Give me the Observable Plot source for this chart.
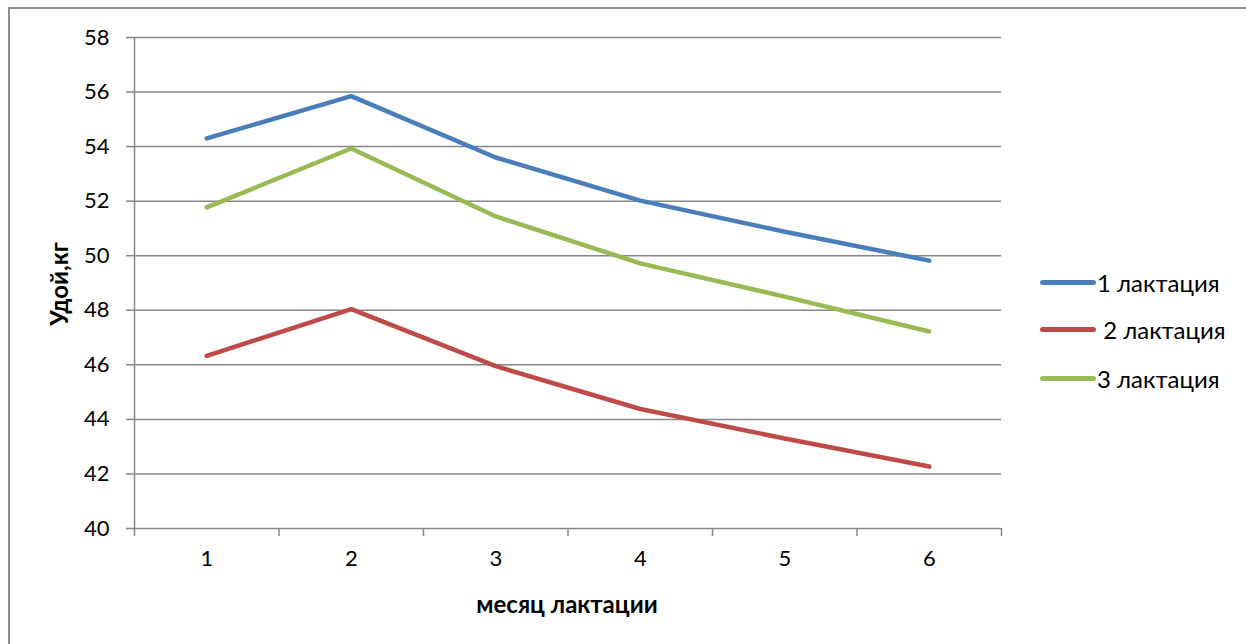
<!DOCTYPE html>
<html>
<head>
<meta charset="utf-8">
<script src="https://cdn.jsdelivr.net/npm/d3@7"></script>
<script src="https://cdn.jsdelivr.net/npm/@observablehq/plot@0.6"></script>
<style>
  html, body { margin: 0; padding: 0; background: #fff; }
  #wrap { position: relative; width: 1246px; height: 644px; overflow: hidden; font-family: Lato, "Open Sans", sans-serif; }
  #frame { position: absolute; left: 8px; top: 7px; width: 1400px; height: 800px; border-left: 2px solid #8c8c8c; border-top: 2px solid #8c8c8c; }
  #chart { position: absolute; left: 0; top: 0; }
  #legend { position: absolute; left: 1040px; top: 0; }
  .item { position: absolute; display: flex; align-items: center; white-space: nowrap; font-size: 24px; color: #000; }
  .swatch { width: 56px; height: 5px; border-radius: 3px; }
  .title { position: absolute; font-weight: bold; font-size: 24px; color: #000; white-space: nowrap; line-height: 1; }
</style>
</head>
<body>
<div id="wrap"><div id="frame"></div><div id="chart"></div><div id="legend"></div></div>
<script>
const months = [1, 2, 3, 4, 5, 6];
const seriesNames = ["1 лактация", " 2 лактация", "3 лактация"];
const lact1 = [54.30, 55.85, 53.60, 52.02, 50.88, 49.82];
const lact2 = [46.33, 48.04, 45.95, 44.38, 43.30, 42.27];
const lact3 = [51.77, 53.93, 51.44, 49.72, 48.50, 47.22];
const colors = ["#4a7ebb", "#be4b48", "#98b954"];
const yTicks = [40, 42, 44, 46, 48, 50, 52, 54, 56, 58];
const xTitle = "месяц лактации";
const yTitle = "Удой,кг";

const seriesValues = [lact1, lact2, lact3];
const data = seriesValues.flatMap((vals, s) => vals.map((v, i) => ({month: months[i], value: v, series: seriesNames[s]})));
const bounds = [months[0] - 0.5, ...months.map(m => m + 0.5)];

const gridColor = "#878787";
const font = 'Lato, "Open Sans", sans-serif';

const chart = Plot.plot({
  width: 1246,
  height: 644,
  marginLeft: 134,
  marginRight: 245,
  marginTop: 37,
  marginBottom: 116,
  style: {fontFamily: font, background: "transparent", overflow: "visible"},
  x: {domain: [bounds[0], bounds[bounds.length - 1]]},
  y: {domain: [40, 58]},
  color: {domain: seriesNames, range: colors},
  marks: [
    Plot.gridY(yTicks, {stroke: gridColor, strokeOpacity: 1, strokeWidth: 1.5}),
    Plot.ruleX([bounds[0]], {stroke: gridColor, strokeWidth: 1.5}),
    Plot.axisY({ticks: yTicks, tickSize: 8, tickPadding: 17, stroke: gridColor, strokeWidth: 1.5, fontSize: 22, fill: "#000", label: null}),
    Plot.axisX({ticks: bounds, tickSize: 8, tickFormat: () => "", stroke: gridColor, strokeWidth: 1.5, label: null}),
    Plot.axisX({ticks: months, tickSize: 0, tickPadding: 22, fontSize: 22, fill: "#000", label: null, tickFormat: d => String(d)}),
    Plot.line(data, {x: "month", y: "value", z: "series", stroke: "series", strokeWidth: 4.5, strokeLinecap: "round", strokeLinejoin: "miter"})
  ]
});
document.getElementById("chart").appendChild(chart);

const wrap = document.getElementById("wrap");
const yt = document.createElement("div");
yt.className = "title";
yt.textContent = yTitle;
yt.style.left = "59px";
yt.style.top = "284px";
yt.style.transform = "translate(-50%, -50%) rotate(-90deg)";
wrap.appendChild(yt);
const xt = document.createElement("div");
xt.className = "title";
xt.textContent = xTitle;
xt.style.left = "567px";
xt.style.top = "604px";
xt.style.transform = "translate(-50%, -50%)";
wrap.appendChild(xt);

const legend = document.getElementById("legend");
const legendY = [282, 329, 378];
seriesNames.forEach((name, i) => {
  const item = document.createElement("div");
  item.className = "item";
  item.style.top = (legendY[i] - 14) + "px";
  item.style.height = "28px";
  const sw = document.createElement("span");
  sw.className = "swatch";
  sw.style.background = colors[i];
  const tx = document.createElement("span");
  tx.textContent = name;
  tx.style.whiteSpace = "pre";
  tx.style.marginLeft = "1px";
  item.appendChild(sw);
  item.appendChild(tx);
  legend.appendChild(item);
});
</script>
</body>
</html>
